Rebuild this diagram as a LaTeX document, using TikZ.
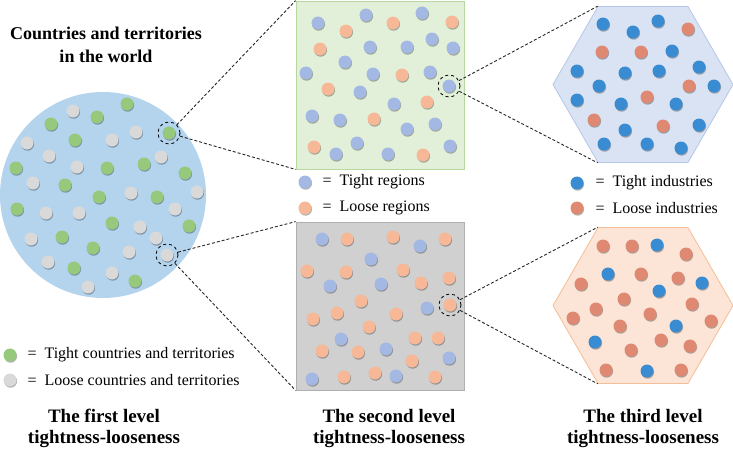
\documentclass[tikz,border=0pt]{standalone}
\usepackage{fontspec}
\setmainfont{Liberation Serif}
\usetikzlibrary{shapes.geometric, shadows, positioning}

\definecolor{worldblue}{RGB}{180,211,237}
\definecolor{tightgreen}{RGB}{151,201,125}
\definecolor{loosegray}{RGB}{217,217,217}
\definecolor{greenbox}{RGB}{226,240,217}
\definecolor{greenedge}{RGB}{182,215,160}
\definecolor{graybox}{RGB}{208,208,208}
\definecolor{grayedge}{RGB}{175,175,175}
\definecolor{paleblue}{RGB}{164,184,228}
\definecolor{palesalmon}{RGB}{246,184,150}
\definecolor{hexblue}{RGB}{218,227,243}
\definecolor{hexblueedge}{RGB}{180,199,231}
\definecolor{hexorange}{RGB}{252,228,214}
\definecolor{hexorangeedge}{RGB}{244,190,150}
\definecolor{deepblue}{RGB}{58,140,210}
\definecolor{terracotta}{RGB}{224,137,114}

\begin{document}
\begin{tikzpicture}[
    x=1pt, y=-1pt, % one unit = one pixel, y downwards
    dotshadow/.style={drop shadow={shadow xshift=0.6pt, shadow yshift=-1.2pt, fill=black, opacity=0.3}}, % Shadow under the dots
    panelbox/.style={rectangle, draw, line width=0.8pt, minimum width=168pt, minimum height=168pt, inner sep=0pt}, % Square panels
    hexpanel/.style={regular polygon, regular polygon sides=6, draw, line width=0.8pt, minimum size=180pt, inner sep=0pt}, % Hexagons
    zoomring/.style={circle, draw, dashed, line width=0.8pt, minimum size=22pt, inner sep=0pt}, % Dashed ring round a dot
    zoomline/.style={dash pattern=on 3pt off 2pt, line width=0.9pt, black!85}, % Dashed zoom lines
    legendtext/.style={anchor=west, font=\fontsize{16}{18}\selectfont}, % Legend labels
    titletext/.style={align=center, font=\bfseries\fontsize{19}{21}\selectfont} % Level titles
]
    \useasboundingbox (0,0) rectangle (733,450);

    % Panels
    \node[circle, fill=worldblue, minimum size=206pt, inner sep=0pt] (world) at (103,195) {};
    \node[panelbox, fill=greenbox, draw=greenedge] (regionsA) at (380,85) {};
    \node[panelbox, fill=graybox, draw=grayedge] (regionsB) at (380,306) {};
    \node[hexpanel, fill=hexblue, draw=hexblueedge] (industryA) at (643,84.5) {};
    \node[hexpanel, fill=hexorange, draw=hexorangeedge] (industryB) at (643,305.5) {};

    % Dots of the first level
    \foreach \p in {(127,104),(97,117),(51,124),(75,140),(169,133),(16,168),(107,168),(144,164),(185,173),(65,185),(99,197),(157,197),(17,209),(112,223),(189,226),(62,237),(93,248),(74,268),(135,281)}
        \fill[tightgreen, dotshadow] \p circle (6.5pt);
    \foreach \p in {(73,111),(136,132),(27,143),(112,140),(49,156),(161,157),(77,167),(33,183),(197,192),(131,193),(175,209),(46,213),(79,213),(140,227),(156,238),(31,239),(129,252),(167,255),(48,262),(112,273),(88,287)}
        \fill[loosegray, dotshadow] \p circle (6.5pt);

    % Dots of the second level
    \foreach \p in {(318,23),(366,15),(422,13),(370,47),(407,47),(432,39),(453,48),(345,62),(306,73),(373,74),(430,72),(449,86),(360,92),(394,104),(312,116),(340,120),(407,129),(435,124),(357,143),(450,146),(336,154),(388,154),
                    (322,239),(420,246),(371,259),(330,286),(381,284),(427,308),(341,339),(386,349),(449,358),(312,379),(396,376)}
        \fill[paleblue, dotshadow] \p circle (6.5pt);
    \foreach \p in {(346,31),(393,23),(452,22),(320,49),(402,75),(328,89),(427,102),(374,119),(314,147),(423,155),
                    (347,239),(393,237),(445,239),(307,271),(346,272),(403,270),(421,283),(449,278),(361,301),(450,305),(337,313),(313,319),(396,314),(369,327),(415,338),(438,338),(322,351),(358,352),(412,361),(375,373),(344,377),(435,377)}
        \fill[palesalmon, dotshadow] \p circle (6.5pt);

    % Dots of the third level
    \foreach \p in {(603,24),(633,32),(658,21),(672,51),(577,71),(625,73),(659,71),(699,67),(599,86),(714,86),(577,100),(621,104),(676,104),(699,125),(625,130),(604,144),(647,144),(681,148),
                    (657,245),(608,274),(702,283),(659,291),(676,326),(595,342),(647,371)}
        \fill[deepblue, dotshadow] \p circle (6.5pt);
    \foreach \p in {(688,29),(602,52),(641,52),(689,86),(647,97),(594,120),(663,126),
                    (603,246),(632,246),(686,254),(641,274),(678,278),(581,284),(624,299),(692,304),(596,309),(650,314),(573,318),(711,321),(620,326),(661,340),(690,346),(631,350),(606,370),(681,370)}
        \fill[terracotta, dotshadow] \p circle (6.5pt);

    % Rings round the zoomed dots
    \node[zoomring] (ringWorldA) at (169,133) {};
    \node[zoomring] (ringWorldB) at (167,255) {};
    \node[zoomring] (ringRegionA) at (449,86) {};
    \node[zoomring] (ringRegionB) at (450,305) {};

    % Zoom lines
    \draw[zoomline] (ringWorldA) -- (regionsA.north west);
    \draw[zoomline] (ringWorldA) -- (regionsA.south west);
    \draw[zoomline] (ringWorldB) -- (regionsB.north west);
    \draw[zoomline] (ringWorldB) -- (regionsB.south west);
    \draw[zoomline] (ringRegionA) -- (industryA.120);
    \draw[zoomline] (ringRegionA) -- (industryA.240);
    \draw[zoomline] (ringRegionB) -- (industryB.120);
    \draw[zoomline] (ringRegionB) -- (industryB.240);

    % Legends
    \fill[tightgreen, dotshadow] (10,355) circle (6.5pt);
    \fill[loosegray, dotshadow] (10,380) circle (6.5pt);
    \node[legendtext] (keyCountryA) at (24,355) {=\enspace Tight countries and territories};
    \node[legendtext] (keyCountryB) at (24,380) {=\enspace Loose countries and territories};
    \fill[paleblue, dotshadow] (305,182) circle (6.5pt);
    \fill[palesalmon, dotshadow] (305,208) circle (6.5pt);
    \node[legendtext] (keyRegionA) at (319,182) {=\enspace Tight regions};
    \node[legendtext] (keyRegionB) at (319,208) {=\enspace Loose regions};
    \fill[deepblue, dotshadow] (577,183) circle (6.5pt);
    \fill[terracotta, dotshadow] (577,208) circle (6.5pt);
    \node[legendtext] (keyIndustryA) at (592,183) {=\enspace Tight industries};
    \node[legendtext] (keyIndustryB) at (592,208) {=\enspace Loose industries};

    % Titles
    \node[titletext, font=\bfseries\fontsize{18}{23}\selectfont] (worldTitle) at (106,45) {Countries and territories\\in the world};
    \node[titletext] (levelOne) at (104,428) {The first level\\tightness-looseness};
    \node[titletext] (levelTwo) at (389,428) {The second level\\tightness-looseness};
    \node[titletext] (levelThree) at (643,428) {The third level\\tightness-looseness};

\end{tikzpicture}
\end{document}
